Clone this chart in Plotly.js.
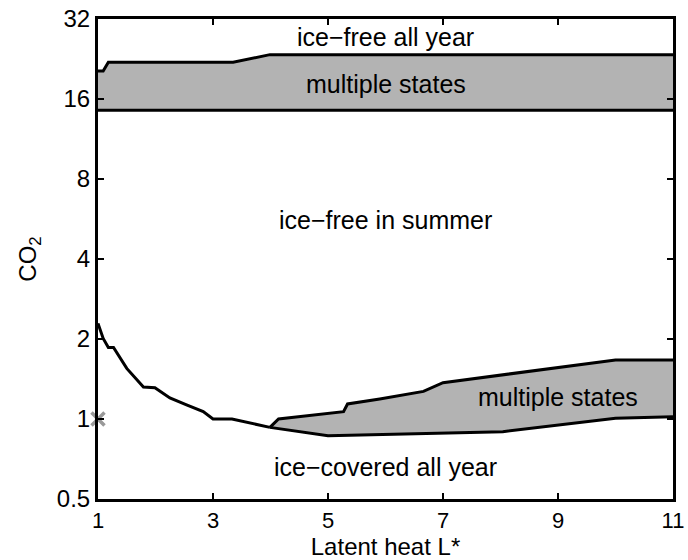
<!DOCTYPE html>
<html>
<head>
<meta charset="utf-8">
<script src="https://cdn.plot.ly/plotly-3.0.1.min.js"></script>
<style>html,body{margin:0;padding:0;background:#fff;}#chart{width:688px;height:560px;}</style>
</head>
<body>
<div id="chart"></div>
<script>
// Upper band (multiple states between ice-free in summer and ice-free all year)
const topUpperL   = [1, 1.09, 1.18, 3.35, 3.99, 11];
const topUpperCO2 = [20.4, 20.4, 22.0, 22.0, 23.5, 23.5];
const topLowerL   = [1, 11];
const topLowerCO2 = [14.5, 14.5];

// Left boundary between ice-free in summer and ice-covered
const leftL   = [1, 1.09, 1.18, 1.27, 1.5, 1.79, 1.99, 2.25, 2.54, 2.83, 3.0, 3.33, 3.99];
const leftCO2 = [2.29, 2.01, 1.86, 1.86, 1.55, 1.32, 1.31, 1.20, 1.13, 1.066, 1.0, 1.0, 0.93];

// Lower band (multiple states)
const lowUpperL   = [3.99, 4.14, 5.27, 5.34, 5.9, 6.66, 7.0, 10.0, 11];
const lowUpperCO2 = [0.93, 1.0, 1.066, 1.139, 1.19, 1.27, 1.37, 1.667, 1.667];
const lowLowerL   = [3.99, 5.0, 8.04, 10.0, 11];
const lowLowerCO2 = [0.93, 0.865, 0.896, 1.006, 1.02];

// Marked point
const markL = [1];
const markCO2 = [1];

// Region labels
const labelText = ["ice\u2212free all year", "multiple states", "ice\u2212free in summer", "multiple states", "ice\u2212covered all year"];
const labelL    = [6.0, 6.0, 6.0, 9.0, 6.0];
const labelCO2  = [27.4, 18.2, 5.6, 1.21, 0.66];

const yTicks = [0.5, 1, 2, 4, 8, 16, 32];
const yTickText = ["0.5", "1", "2", "4", "8", "16", "32"];
const xTicks = [1, 3, 5, 7, 9, 11];

const FILL = '#b3b3b3';
const LW = 3;
const FONT = 'Liberation Sans, Arial, Helvetica, sans-serif';
const FS = 24;
const FS_LABEL = 25;
const FS_X = 22;

function poly(uL, uC, lL, lC) {
  return {x: uL.concat(lL.slice().reverse()), y: uC.concat(lC.slice().reverse())};
}
const topPoly = poly(topUpperL, topUpperCO2, topLowerL, topLowerCO2);
const lowPoly = poly(lowUpperL, lowUpperCO2, lowLowerL, lowLowerCO2);

const lineStyle = {color: '#000', width: LW};
const traces = [
  {x: topPoly.x, y: topPoly.y, mode: 'lines', fill: 'toself', fillcolor: FILL, line: {width: 0, color: FILL}, hoverinfo: 'skip'},
  {x: lowPoly.x, y: lowPoly.y, mode: 'lines', fill: 'toself', fillcolor: FILL, line: {width: 0, color: FILL}, hoverinfo: 'skip'},
  {x: topUpperL, y: topUpperCO2, mode: 'lines', line: lineStyle},
  {x: topLowerL, y: topLowerCO2, mode: 'lines', line: lineStyle},
  {x: leftL, y: leftCO2, mode: 'lines', line: lineStyle},
  {x: lowUpperL, y: lowUpperCO2, mode: 'lines', line: lineStyle},
  {x: lowLowerL, y: lowLowerCO2, mode: 'lines', line: lineStyle},
  {x: markL, y: markCO2, mode: 'markers', cliponaxis: false,
   marker: {symbol: 'x-thin-open', size: 13, color: '#999999', line: {color: '#999999', width: 3.5}}}
];

const annotations = labelText.map((t, i) => ({
  x: labelL[i], y: Math.log10(labelCO2[i]), xref: 'x', yref: 'y',
  text: t, showarrow: false, font: {family: FONT, size: FS_LABEL, color: '#000'}
}));

const layout = {
  width: 688, height: 560,
  margin: {l: 98, r: 15, t: 19, b: 61},
  paper_bgcolor: '#fff', plot_bgcolor: '#fff',
  showlegend: false,
  font: {family: FONT, size: FS, color: '#000'},
  xaxis: {
    range: [1, 11], tickvals: xTicks, ticktext: xTicks.map(String),
    ticks: 'inside', ticklen: 6, tickwidth: 2, tickcolor: '#000',
    showline: true, linewidth: 3, linecolor: '#000', mirror: 'ticks',
    showgrid: false, zeroline: false,
    title: {text: 'Latent heat L*', font: {family: FONT, size: FS}, standoff: 0},
    tickfont: {family: FONT, size: FS_X}
  },
  yaxis: {
    type: 'log', range: [Math.log10(0.5), Math.log10(32)],
    tickvals: yTicks, ticktext: yTickText,
    ticks: 'inside', ticklen: 6, tickwidth: 2, tickcolor: '#000',
    showline: true, linewidth: 3, linecolor: '#000', mirror: 'ticks',
    showgrid: false, zeroline: false,
    title: {text: 'CO<sub>2</sub>', font: {family: FONT, size: FS}, standoff: 14},
    tickfont: {family: FONT, size: FS}
  },
  annotations: annotations
};

Plotly.newPlot('chart', traces, layout, {displayModeBar: false, staticPlot: true});
</script>
</body>
</html>
